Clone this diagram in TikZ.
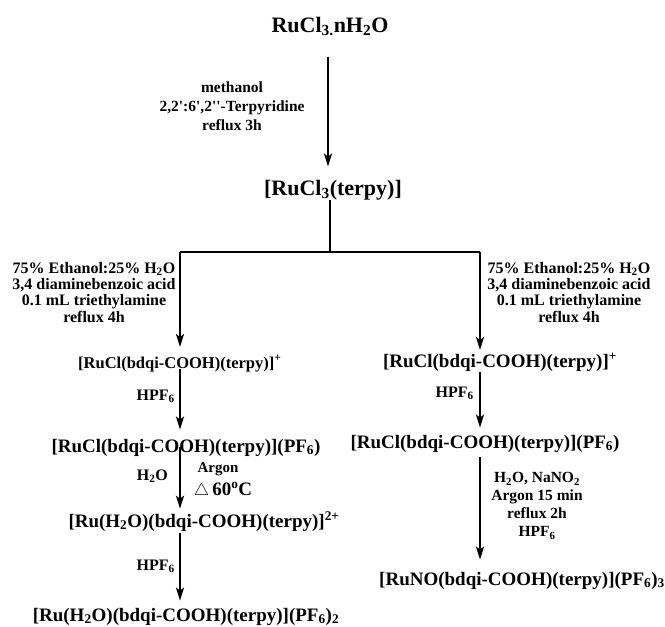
\documentclass[tikz,border=0pt]{standalone}
\usepackage{fontspec}
\setmainfont{Liberation Serif}
\usetikzlibrary{arrows.meta}
\begin{document}
\begin{tikzpicture}[x=1pt,y=-1pt]
	\tikzset{cmpd/.style={inner sep=0pt,anchor=base,font=\fontsize{19}{22}\selectfont\bfseries},
		head/.style={cmpd,font=\fontsize{22}{26}\selectfont\bfseries},
		cond/.style={inner sep=0pt,align=center,anchor=north,font=\fontsize{16}{16.3}\selectfont\bfseries},
		arr/.style={line width=2pt,-{Stealth[length=13pt,width=8pt,inset=3pt]}},
		branch/.style={line width=1.3pt}}
	\useasboundingbox (0,0) rectangle (665,627);
	% top part
	\node[head] (salt) at (330,32) {RuCl\textsubscript{3.}nH\textsubscript{2}O};
	\node[head] (terpy) at (333,195) {[RuCl\textsubscript{3}(terpy)]};
	\node[cond,font=\fontsize{15.5}{19}\selectfont\bfseries] (c1) at (232,81.5) {methanol\\2,2\textquotesingle:6\textquotesingle,2\textquotesingle\textquotesingle-Terpyridine\\reflux 3h};
	\coordinate (mid) at (328,0);
	\coordinate (fork) at (330,252);
	\coordinate (lc) at (180,252);
	\coordinate (rc) at (480,252);
	\draw[arr,shorten <=21pt,shorten >=13pt] (salt.south -| mid) -- (terpy.north -| mid);
	\draw[branch] (terpy.south -| fork) -- (fork);
	\draw[branch] (lc) -- (rc);
	% left branch
	\node[cond] (cl) at (94,262) {75\% Ethanol:25\% H\textsubscript{2}O\\3,4 diaminebenzoic acid\\0.1 mL triethylamine\\reflux 4h};
	\node[cmpd,anchor=base west,font=\fontsize{16.5}{19}\selectfont\bfseries] (l1) at (78,368) {[RuCl(bdqi-COOH)(terpy)]\textsuperscript{+}};
	\node[cmpd] (l2) at (186,452) {[RuCl(bdqi-COOH)(terpy)](PF\textsubscript{6})};
	\node[cmpd] (l3) at (204,527) {[Ru(H\textsubscript{2}O)(bdqi-COOH)(terpy)]\textsuperscript{2+}};
	\node[cmpd] (l4) at (186,621) {[Ru(H\textsubscript{2}O)(bdqi-COOH)(terpy)](PF\textsubscript{6})\textsubscript{2}};
	\node[cond,anchor=base east] (hl1) at (175,400) {HPF\textsubscript{6}};
	\node[cond,anchor=base east] (hl2) at (168,480) {H\textsubscript{2}O};
	\node[cond,anchor=base,font=\fontsize{15}{18}\selectfont\bfseries] (hl3) at (218,472) {Argon};
	\node[cmpd] (hl4) at (223,495) {$\triangle$\,60\textsuperscript{o}C};
	\node[cond,anchor=base east] (hl5) at (175,570) {HPF\textsubscript{6}};
	\draw[arr,shorten >=8pt] (lc) -- (l1.north -| lc);
	\draw[arr,shorten <=-3pt,shorten >=9pt] (l1.south -| lc) -- (l2.north -| lc);
	\draw[arr,shorten <=-9pt,shorten >=3pt] (l2.south -| lc) -- (l3.north -| lc);
	\draw[arr,shorten <=2pt,shorten >=7pt] (l3.south -| lc) -- (l4.north -| lc);
	% right branch
	\node[cond] (cr) at (569,262) {75\% Ethanol:25\% H\textsubscript{2}O\\3,4 diaminebenzoic acid\\0.1 mL triethylamine\\reflux 4h};
	\node[cmpd] (r1) at (500,367) {[RuCl(bdqi-COOH)(terpy)]\textsuperscript{+}};
	\node[cmpd] (r2) at (485,448) {[RuCl(bdqi-COOH)(terpy)](PF\textsubscript{6})};
	\node[cmpd] (r3) at (522,585) {[RuNO(bdqi-COOH)(terpy)](PF\textsubscript{6})\textsubscript{3}};
	\node[cond,anchor=base east] (hr1) at (474,397) {HPF\textsubscript{6}};
	\node[cond,font=\fontsize{15.5}{18}\selectfont\bfseries] (hr2) at (537,472.5) {H\textsubscript{2}O, NaNO\textsubscript{2}\\Argon 15 min\\reflux 2h\\HPF\textsubscript{6}};
	\draw[arr,shorten >=3pt] (rc) -- (r1.north -| rc);
	\draw[arr,shorten <=1pt,shorten >=7pt] (r1.south -| rc) -- (r2.north -| rc);
	\draw[arr,shorten <=5pt,shorten >=12pt] (r2.south -| rc) -- (r3.north -| rc);
\end{tikzpicture}
\end{document}
